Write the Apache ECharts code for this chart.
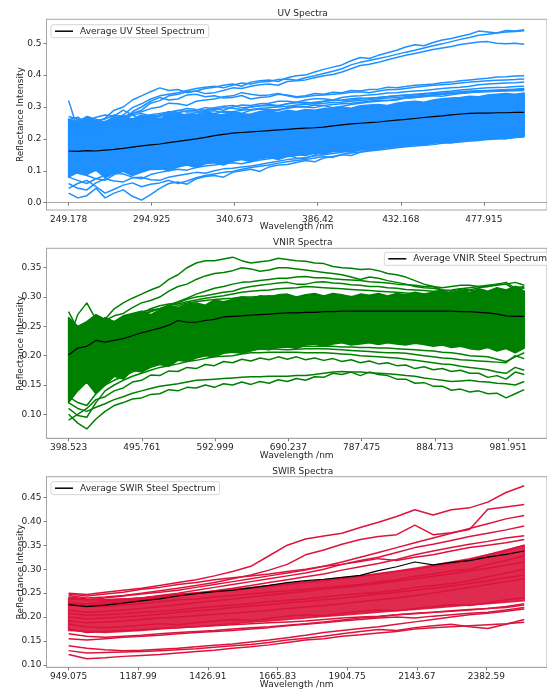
<!DOCTYPE html>
<html>
<head>
<meta charset="utf-8">
<script src="https://cdn.jsdelivr.net/npm/echarts@6/dist/echarts.min.js"></script>
<style>
  html, body { margin: 0; padding: 0; background: #fff; }
  #chart { width: 547px; height: 691px; }
</style>
</head>
<body>
<div id="chart"></div>
<script>
// ---------- UV panel (reflectance sampled every ~5 nm) ----------
const uvWave = [249.18, 254.20, 259.22, 264.24, 269.26, 274.28, 279.30, 284.32, 289.34, 294.36, 299.38, 304.40, 309.42,
  314.44, 319.46, 324.48, 329.50, 334.52, 339.54, 344.56, 349.58, 354.60, 359.62, 364.64, 369.66, 374.68, 379.70,
  384.72, 389.74, 394.76, 399.78, 404.80, 409.82, 414.84, 419.86, 424.88, 429.90, 434.92, 439.94, 444.96, 449.98,
  455.00, 460.02, 465.04, 470.06, 475.08, 480.10, 485.12, 490.14, 495.16, 500.18];
const uvMean = [.162,.161,.163,.162,.165,.167,.170,.174,.178,.181,.184,.188,.192,.196,.200,.205,.210,.214,.218,.220,
  .222,.224,.226,.228,.230,.232,.234,.235,.237,.241,.244,.247,.249,.251,.253,.256,.259,.261,.264,.267,
  .270,.272,.275,.278,.280,.281,.281,.282,.282,.283,.283];
// dense core of overlapping UV spectra: lower / upper envelope
const uvCoreLow = [.080,.095,.088,.102,.078,.092,.098,.085,.095,.105,.108,.100,.112,.118,.110,.122,.125,.118,.130,.135,
  .128,.138,.142,.135,.145,.150,.148,.155,.152,.160,.162,.158,.166,.170,.168,.175,.176,.180,.182,.180,
  .186,.190,.188,.194,.196,.195,.200,.202,.200,.205,.208];
const uvCoreHigh = [.262,.255,.270,.258,.250,.266,.272,.262,.275,.268,.262,.278,.282,.272,.276,.284,.280,.274,.286,.280,
  .276,.284,.288,.282,.290,.286,.292,.290,.295,.298,.300,.296,.304,.306,.308,.305,.312,.316,.318,.315,
  .322,.326,.328,.330,.334,.332,.338,.340,.342,.340,.344];
const uvSpectra = [
  [.320,.230,.215,.228,.230,.240,.245,.236,.238,.248,.250,.256,.262,.252,.258,.266,.270,.276,.282,.274,.278,.286,.290,.292,.296,.300,.300,.306,.305,.298,.302,.308,.312,.316,.318,.320,.322,.328,.330,.332,.335,.334,.338,.342,.345,.348,.350,.349,.352,.354,.355],
  [.240,.262,.255,.248,.265,.290,.300,.322,.335,.348,.360,.352,.355,.345,.350,.358,.362,.368,.372,.365,.378,.382,.385,.380,.392,.398,.400,.410,.418,.425,.432,.445,.455,.452,.462,.470,.478,.488,.495,.492,.502,.510,.515,.522,.528,.538,.535,.532,.540,.538,.542],
  [.220,.245,.235,.255,.250,.262,.275,.298,.310,.325,.335,.340,.345,.352,.358,.362,.365,.360,.368,.375,.372,.378,.380,.386,.388,.384,.392,.398,.405,.412,.420,.432,.440,.446,.452,.458,.465,.472,.478,.485,.492,.498,.505,.512,.518,.525,.528,.532,.535,.537,.539],
  [.200,.225,.215,.230,.240,.255,.260,.280,.290,.312,.320,.335,.340,.348,.350,.342,.345,.352,.360,.358,.365,.370,.372,.368,.380,.382,.385,.392,.398,.402,.410,.420,.430,.434,.440,.448,.455,.462,.468,.474,.480,.485,.490,.496,.500,.504,.505,.500,.498,.500,.497],
  [.230,.250,.240,.232,.238,.262,.255,.285,.300,.318,.330,.322,.325,.338,.340,.332,.335,.328,.330,.336,.325,.330,.332,.340,.338,.332,.335,.342,.340,.346,.345,.352,.350,.355,.356,.362,.360,.364,.368,.370,.372,.376,.378,.382,.385,.388,.390,.394,.395,.397,.398],
  [.250,.240,.248,.258,.262,.275,.270,.280,.285,.295,.300,.312,.310,.305,.318,.322,.325,.332,.335,.345,.340,.336,.338,.342,.335,.330,.332,.336,.338,.340,.342,.346,.348,.345,.350,.354,.355,.358,.362,.365,.368,.370,.372,.375,.378,.380,.382,.384,.385,.386,.388],
  [.260,.268,.250,.242,.245,.252,.258,.262,.265,.272,.275,.285,.282,.288,.290,.298,.295,.290,.300,.306,.305,.310,.312,.318,.318,.315,.322,.326,.326,.322,.330,.334,.335,.338,.340,.344,.345,.348,.350,.352,.355,.358,.360,.362,.365,.370,.372,.374,.375,.376,.378],
  [.240,.255,.262,.250,.255,.265,.270,.262,.268,.276,.280,.284,.288,.295,.292,.290,.298,.302,.305,.298,.300,.304,.308,.305,.310,.314,.315,.312,.318,.320,.322,.326,.328,.326,.330,.333,.335,.338,.340,.342,.345,.348,.350,.353,.356,.358,.360,.361,.362,.364,.365],
  [.235,.250,.245,.238,.250,.256,.248,.255,.260,.268,.265,.262,.270,.278,.275,.272,.280,.286,.285,.280,.290,.294,.292,.288,.298,.302,.300,.298,.305,.308,.310,.312,.315,.318,.322,.320,.325,.328,.330,.334,.338,.340,.342,.344,.346,.348,.350,.352,.355,.356,.358],
  [.030,.015,.022,.045,.015,.030,.040,.020,.008,.025,.045,.060,.065,.058,.075,.082,.085,.080,.095,.100,.105,.098,.112,.118,.120,.126,.132,.128,.140,.145,.150,.148,.158,.162,.165,.168,.172,.175,.178,.180,.182,.186,.188,.190,.193,.196,.198,.200,.202,.204,.206],
  [.045,.060,.070,.050,.030,.042,.055,.062,.050,.058,.062,.070,.060,.068,.078,.085,.090,.095,.098,.105,.110,.114,.118,.124,.128,.132,.135,.140,.145,.142,.152,.156,.160,.165,.168,.172,.175,.178,.182,.185,.188,.190,.192,.195,.198,.200,.203,.206,.208,.209,.210],
  [.060,.045,.040,.062,.075,.068,.065,.078,.080,.072,.070,.080,.085,.090,.095,.092,.100,.106,.108,.112,.115,.120,.125,.130,.135,.138,.142,.146,.150,.154,.158,.162,.165,.168,.172,.176,.180,.183,.186,.189,.192,.195,.198,.200,.203,.205,.207,.208,.210,.212,.214],
  [.080,.070,.060,.075,.085,.092,.090,.080,.075,.088,.095,.100,.105,.102,.110,.115,.118,.122,.125,.122,.128,.134,.138,.142,.145,.148,.152,.156,.160,.164,.168,.172,.175,.178,.182,.185,.188,.192,.195,.198,.200,.202,.205,.207,.210,.211,.212,.214,.215,.216,.218],
  [.100,.092,.085,.075,.070,.088,.100,.108,.110,.104,.105,.112,.115,.120,.122,.126,.128,.132,.135,.138,.140,.145,.148,.150,.150,.140,.138,.150,.160,.165,.168,.172,.178,.182,.185,.188,.190,.194,.197,.200,.203,.206,.208,.210,.212,.214,.215,.216,.218,.219,.220],
  [.270,.262,.255,.268,.275,.270,.262,.275,.280,.272,.270,.282,.290,.284,.285,.290,.292,.298,.296,.292,.300,.304,.305,.302,.310,.314,.312,.315,.318,.322,.320,.322,.325,.328,.330,.332,.335,.337,.338,.340,.342,.344,.346,.348,.350,.351,.352,.353,.354,.355,.356],
  [.200,.248,.270,.262,.250,.272,.290,.275,.260,.268,.275,.270,.265,.276,.282,.286,.288,.282,.285,.290,.292,.296,.298,.300,.302,.306,.308,.310,.312,.314,.315,.318,.320,.323,.326,.328,.330,.332,.334,.336,.338,.340,.342,.344,.346,.347,.348,.349,.350,.351,.352]
];
const uvTicks = [249.178, 294.925, 340.673, 386.42, 432.168, 477.915];
const uvYTicks = [0.0, 0.1, 0.2, 0.3, 0.4, 0.5];

// ---------- VNIR panel (reflectance sampled every ~12 nm) ----------
const vnirWave = [398.52, 410.62, 422.71, 434.81, 446.90, 459.00, 471.09, 483.19, 495.28, 507.38, 519.47, 531.57, 543.66,
  555.76, 567.85, 579.95, 592.04, 604.14, 616.23, 628.33, 640.42, 652.52, 664.61, 676.71, 688.80, 700.90, 712.99,
  725.09, 737.18, 749.28, 761.37, 773.47, 785.56, 797.66, 809.75, 821.85, 833.94, 846.04, 858.13, 870.23, 882.32,
  894.42, 906.51, 918.61, 930.70, 942.80, 954.89, 966.99, 979.08, 991.18, 1003.27];
const vnirMean = [.201,.213,.216,.226,.223,.226,.229,.234,.239,.243,.247,.252,.260,.257,.257,.260,.262,.266,.267,.268,
  .269,.270,.271,.272,.273,.273,.274,.274,.275,.275,.276,.276,.276,.276,.276,.276,.276,.276,.276,.276,
  .276,.276,.276,.275,.275,.274,.273,.271,.268,.267,.267];
const vnirCoreLow = [.120,.140,.155,.135,.150,.165,.160,.175,.172,.180,.185,.182,.192,.190,.196,.200,.198,.204,.206,.204,
  .208,.212,.210,.214,.215,.212,.218,.220,.216,.220,.222,.218,.220,.222,.219,.222,.220,.218,.221,.219,
  .216,.218,.214,.216,.212,.210,.214,.208,.212,.205,.213];
const vnirCoreHigh = [.265,.250,.258,.270,.262,.258,.268,.272,.276,.270,.278,.284,.282,.288,.290,.286,.295,.292,.296,.300,
  .298,.302,.300,.304,.305,.300,.304,.306,.302,.306,.304,.300,.305,.303,.306,.302,.306,.304,.308,.305,
  .308,.310,.306,.312,.308,.314,.310,.316,.312,.318,.310];
const vnirSpectra = [
  [.235,.242,.245,.255,.262,.280,.290,.298,.305,.312,.318,.330,.338,.350,.358,.362,.362,.365,.368,.362,.358,.360,.362,.366,.364,.362,.361,.358,.357,.352,.350,.349,.347,.348,.345,.340,.338,.334,.328,.322,.318,.312,.305,.306,.302,.300,.300,.296,.295,.292,.300],
  [.250,.238,.240,.252,.260,.268,.272,.282,.290,.294,.300,.310,.318,.322,.330,.336,.340,.342,.345,.350,.348,.344,.346,.350,.350,.348,.346,.344,.342,.340,.338,.334,.330,.334,.332,.328,.325,.322,.318,.316,.315,.312,.310,.314,.312,.308,.305,.308,.310,.318,.315],
  [.220,.232,.235,.240,.245,.252,.255,.262,.268,.275,.280,.286,.292,.298,.305,.310,.315,.318,.322,.325,.326,.328,.330,.332,.332,.334,.335,.333,.333,.331,.330,.329,.328,.326,.325,.324,.322,.321,.320,.318,.318,.316,.318,.320,.320,.318,.318,.322,.322,.325,.320],
  [.240,.250,.228,.242,.250,.258,.262,.268,.272,.280,.285,.288,.290,.296,.300,.302,.305,.308,.310,.315,.318,.320,.322,.324,.325,.322,.322,.325,.326,.324,.323,.321,.320,.318,.318,.316,.315,.313,.312,.311,.310,.311,.312,.314,.316,.318,.320,.322,.325,.315,.318],
  [.275,.245,.230,.250,.265,.258,.255,.268,.275,.278,.280,.285,.288,.292,.295,.298,.300,.302,.305,.308,.310,.311,.312,.314,.315,.316,.318,.317,.316,.315,.314,.313,.312,.311,.310,.309,.308,.307,.306,.305,.305,.306,.308,.310,.312,.316,.318,.320,.322,.312,.316],
  [.225,.270,.290,.262,.240,.255,.262,.268,.270,.276,.280,.282,.285,.290,.292,.294,.296,.297,.298,.300,.300,.301,.302,.301,.300,.299,.298,.299,.300,.301,.302,.301,.300,.299,.298,.299,.300,.301,.302,.301,.300,.299,.298,.300,.302,.304,.306,.310,.312,.305,.308],
  [.100,.085,.075,.092,.105,.115,.120,.126,.128,.134,.135,.142,.140,.146,.145,.150,.146,.152,.150,.155,.151,.156,.153,.159,.156,.161,.158,.164,.163,.170,.168,.172,.166,.172,.168,.166,.160,.160,.153,.154,.148,.148,.141,.143,.138,.140,.135,.136,.128,.135,.142],
  [.120,.110,.105,.112,.118,.125,.130,.136,.140,.144,.148,.150,.152,.155,.158,.159,.160,.161,.162,.163,.164,.164,.165,.165,.165,.166,.166,.168,.170,.172,.173,.172,.172,.171,.170,.169,.168,.166,.165,.162,.160,.158,.156,.157,.158,.156,.155,.153,.152,.150,.156],
  [.090,.100,.110,.125,.130,.140,.145,.155,.158,.167,.166,.174,.173,.180,.178,.185,.183,.190,.188,.194,.191,.196,.193,.198,.194,.198,.193,.196,.192,.195,.190,.193,.188,.191,.186,.188,.183,.184,.178,.181,.176,.178,.173,.175,.170,.170,.163,.166,.160,.172,.168],
  [.110,.098,.095,.120,.140,.150,.158,.165,.170,.175,.180,.183,.186,.190,.192,.195,.198,.199,.200,.203,.205,.205,.206,.206,.206,.206,.205,.205,.205,.204,.203,.202,.200,.199,.198,.197,.196,.194,.192,.190,.188,.186,.185,.182,.180,.178,.176,.172,.170,.180,.175],
  [.130,.120,.115,.135,.150,.158,.165,.172,.178,.183,.188,.192,.196,.198,.200,.203,.205,.206,.208,.209,.210,.211,.212,.211,.210,.211,.212,.212,.212,.211,.210,.209,.208,.207,.206,.205,.205,.204,.202,.200,.198,.196,.195,.193,.192,.191,.190,.189,.188,.200,.195],
  [.140,.150,.160,.155,.150,.165,.175,.180,.185,.190,.195,.198,.200,.203,.205,.208,.210,.211,.212,.212,.213,.213,.214,.214,.215,.215,.216,.216,.216,.216,.215,.215,.214,.214,.213,.213,.212,.211,.210,.209,.208,.206,.205,.203,.200,.199,.198,.194,.190,.198,.205]
];
const vnirTicks = [398.523, 495.761, 592.999, 690.237, 787.475, 884.713, 981.951];
const vnirYTicks = [0.10, 0.15, 0.20, 0.25, 0.30, 0.35];

// ---------- SWIR panel (reflectance sampled every ~63 nm) ----------
const swirWave = [949.08, 1011.61, 1074.14, 1136.67, 1199.20, 1261.73, 1324.26, 1386.79, 1449.32, 1511.85, 1574.38, 1636.91, 1699.44,
  1761.97, 1824.50, 1887.03, 1949.56, 2012.09, 2074.62, 2137.15, 2199.68, 2262.21, 2324.74, 2387.27, 2449.80, 2512.33];
const swirMean = [.226,.222,.225,.229,.234,.238,.244,.249,.253,.256,.261,.266,.272,.276,.279,.283,.287,.297,.305,.315,.309,.314,.318,.325,.331,.338];
const swirCoreLow = [.172,.170,.168,.170,.172,.175,.178,.180,.183,.186,.189,.192,.195,.198,.201,.204,.207,.210,.213,.216,.219,.222,.225,.228,.231,.234];
const swirCoreHigh = [.240,.236,.236,.238,.240,.244,.248,.251,.254,.258,.262,.266,.270,.274,.278,.282,.286,.291,.296,.302,.308,.315,.322,.330,.338,.350];
const swirSpectra = [
  [.250,.247,.252,.256,.260,.266,.272,.278,.286,.295,.306,.328,.350,.363,.369,.375,.387,.398,.410,.424,.413,.424,.428,.440,.460,.474],
  [.245,.240,.242,.245,.250,.255,.260,.266,.272,.280,.288,.298,.310,.330,.340,.352,.362,.368,.372,.392,.372,.376,.383,.425,.430,.435],
  [.238,.236,.240,.244,.248,.252,.256,.262,.268,.274,.280,.286,.292,.298,.306,.315,.325,.335,.345,.355,.365,.375,.385,.395,.405,.412],
  [.230,.228,.232,.236,.240,.245,.250,.256,.262,.268,.274,.280,.286,.292,.300,.310,.318,.325,.335,.345,.352,.360,.368,.375,.382,.390],
  [.225,.224,.228,.232,.236,.240,.245,.250,.255,.260,.266,.272,.278,.284,.290,.298,.305,.312,.320,.330,.338,.345,.352,.358,.365,.370],
  [.248,.244,.248,.252,.258,.262,.268,.272,.278,.282,.286,.290,.295,.300,.306,.310,.316,.322,.318,.325,.330,.338,.345,.350,.355,.362],
  [.122,.113,.115,.118,.120,.122,.125,.128,.131,.135,.138,.142,.147,.152,.155,.160,.163,.167,.170,.175,.178,.180,.182,.184,.186,.189],
  [.130,.125,.126,.127,.128,.130,.132,.134,.137,.140,.143,.147,.152,.156,.160,.165,.170,.174,.172,.178,.182,.185,.180,.176,.185,.195],
  [.140,.135,.132,.130,.131,.133,.135,.138,.141,.144,.148,.152,.157,.162,.168,.172,.176,.180,.185,.190,.195,.200,.205,.208,.212,.217],
  [.165,.160,.158,.160,.162,.165,.168,.170,.172,.175,.178,.180,.183,.186,.190,.194,.198,.200,.205,.208,.210,.213,.216,.218,.220,.225],
  [.175,.168,.170,.172,.174,.176,.178,.180,.182,.184,.186,.188,.190,.192,.195,.198,.200,.202,.205,.207,.210,.212,.215,.218,.222,.228],
  [.155,.152,.155,.158,.160,.162,.165,.168,.170,.172,.175,.178,.182,.185,.188,.192,.195,.198,.200,.198,.202,.205,.208,.210,.215,.220],
  [.242,.238,.236,.238,.240,.243,.247,.250,.253,.256,.260,.264,.268,.272,.276,.280,.285,.290,.295,.300,.306,.312,.320,.330,.340,.350],
  [.200,.196,.198,.200,.203,.206,.210,.213,.216,.220,.223,.226,.230,.233,.236,.240,.244,.248,.252,.256,.260,.265,.270,.276,.282,.288],
  [.215,.210,.212,.215,.218,.222,.226,.230,.234,.238,.242,.246,.250,.254,.258,.262,.266,.270,.275,.280,.285,.290,.296,.302,.308,.315],
  [.192,.188,.190,.192,.195,.198,.200,.203,.206,.208,.211,.214,.218,.221,.224,.228,.232,.236,.240,.245,.250,.256,.262,.268,.274,.280],
  [.185,.180,.178,.180,.183,.186,.184,.188,.192,.195,.193,.197,.202,.205,.203,.208,.212,.215,.213,.218,.222,.226,.224,.230,.236,.240],
  [.228,.224,.222,.225,.228,.232,.236,.238,.242,.245,.248,.252,.255,.258,.262,.265,.268,.274,.278,.285,.290,.296,.300,.310,.318,.328],
  [.208,.204,.205,.207,.210,.212,.215,.219,.222,.225,.228,.232,.235,.238,.242,.246,.249,.252,.256,.262,.266,.270,.276,.284,.292,.300]
];
const swirTicks = [949.075, 1187.99, 1426.91, 1665.83, 1904.75, 2143.67, 2382.59];
const swirYTicks = [0.10, 0.15, 0.20, 0.25, 0.30, 0.35, 0.40, 0.45];

// ---------- layout & styling ----------
const FONT = 'DejaVu Sans';
const TEXT = '#262626';
const FRAME = '#a6a6a6';
const panels = [
  { title: 'UV Spectra', avg: 'Average UV Steel Spectrum', color: '#1e90ff', coreOpacity: 1, top: 19.3, height: 190.7,
    xMin: 237.0, xMax: 512.74, yMin: -0.023, yMax: 0.575, dec: 1,
    wave: uvWave, mean: uvMean, low: uvCoreLow, high: uvCoreHigh, spectra: uvSpectra, xt: uvTicks, yt: uvYTicks,
    legend: { left: 51, top: 24.7 } },
  { title: 'VNIR Spectra', avg: 'Average VNIR Steel Spectrum', color: '#008000', coreOpacity: 1, top: 248.3, height: 190,
    xMin: 369.2, xMax: 1033.4, yMin: 0.0591, yMax: 0.3831, dec: 2,
    wave: vnirWave, mean: vnirMean, low: vnirCoreLow, high: vnirCoreHigh, spectra: vnirSpectra, xt: vnirTicks, yt: vnirYTicks,
    legend: { left: 384.3, top: 252.3 } },
  { title: 'SWIR Spectra', avg: 'Average SWIR Steel Spectrum', color: '#dc143c', coreOpacity: 0.9, top: 476.7, height: 190.6,
    xMin: 873.3, xMax: 2590.5, yMin: 0.0952, yMax: 0.493, dec: 2,
    wave: swirWave, mean: swirMean, low: swirCoreLow, high: swirCoreHigh, spectra: swirSpectra, xt: swirTicks, yt: swirYTicks,
    legend: { left: 51, top: 481.7 } }
];
const GRID_LEFT = 46.5, GRID_WIDTH = 512.5;   // axes run past the right edge of the canvas

const grid = [], xAxis = [], yAxis = [], series = [], title = [], legend = [];

panels.forEach((p, idx) => {
  grid.push({ left: GRID_LEFT, width: GRID_WIDTH, top: p.top, height: p.height,
    show: true, borderColor: FRAME, borderWidth: 1, backgroundColor: 'transparent' });

  title.push({ text: p.title, left: GRID_LEFT + GRID_WIDTH / 2, top: p.top - 10, textAlign: 'center', padding: 0,
    textStyle: { fontFamily: FONT, fontSize: 9, fontWeight: 'normal', color: TEXT } });

  xAxis.push({ type: 'value', gridIndex: idx, min: p.xMin, max: p.xMax,
    name: 'Wavelength /nm', nameLocation: 'middle', nameGap: 12.5, nameMoveOverlap: false,
    nameTextStyle: { fontFamily: FONT, fontSize: 9, color: TEXT },
    axisLine: { show: true, lineStyle: { color: FRAME, width: 1 } },
    axisTick: { show: true, length: 3, customValues: p.xt, lineStyle: { color: '#7a7a7a' } },
    axisLabel: { customValues: p.xt, margin: 5, fontFamily: FONT, fontSize: 9, color: TEXT,
      formatter: v => String(v) },
    splitLine: { show: false } });

  yAxis.push({ type: 'value', gridIndex: idx, min: p.yMin, max: p.yMax,
    name: 'Reflectance Intensity', nameLocation: 'middle', nameGap: 21, nameMoveOverlap: false,
    nameTextStyle: { fontFamily: FONT, fontSize: 9, color: TEXT },
    axisLine: { show: true, lineStyle: { color: FRAME, width: 1 } },
    axisTick: { show: true, length: 3, customValues: p.yt, lineStyle: { color: '#7a7a7a' } },
    axisLabel: { customValues: p.yt, margin: 5, fontFamily: FONT, fontSize: 9, color: TEXT,
      formatter: v => v.toFixed(p.dec) },
    splitLine: { show: false } });

  const pts = arr => p.wave.map((w, i) => [w, arr[i]]);
  const base = { type: 'line', xAxisIndex: idx, yAxisIndex: idx, symbol: 'none', showSymbol: false,
    silent: true, animation: false, clip: true };

  // dense core of overlapping spectra, filled between its lower and upper envelope
  series.push({ type: 'custom', name: 'core-' + idx, xAxisIndex: idx, yAxisIndex: idx, silent: true,
    animation: false, clip: true, data: [[p.wave[0], p.low[0]]],
    renderItem: (params, api) => {
      const upper = p.wave.map((w, i) => api.coord([w, p.high[i]]));
      const lower = p.wave.map((w, i) => api.coord([w, p.low[i]])).reverse();
      return { type: 'polygon', shape: { points: upper.concat(lower) },
        style: { fill: p.color, stroke: p.color, lineWidth: 1.5, lineJoin: 'round', opacity: p.coreOpacity } };
    } });

  // individual spectra
  p.spectra.forEach((s, k) => series.push({ ...base, name: 'spectrum-' + idx + '-' + k, data: pts(s),
    color: p.color, lineStyle: { color: p.color, width: 1.5 } }));

  // average spectrum
  series.push({ ...base, name: p.avg, data: pts(p.mean), z: 5,
    color: '#000', lineStyle: { color: '#000', width: 1.2 } });

  legend.push({ data: [p.avg], left: p.legend.left, top: p.legend.top, orient: 'vertical',
    selectedMode: false, icon: 'rect', itemWidth: 18, itemHeight: 1.5,
    padding: [2, 4, 2, 4], backgroundColor: 'rgba(255,255,255,0.8)', borderColor: '#d6d6d6', borderWidth: 1, borderRadius: 2,
    textStyle: { fontFamily: FONT, fontSize: 9, color: TEXT, padding: [0, 0, 0, 2] } });
});

const chart = echarts.init(document.getElementById('chart'), null, { renderer: 'canvas' });
chart.setOption({ animation: false, backgroundColor: '#fff', title, legend, grid, xAxis, yAxis, series });
</script>
</body>
</html>
